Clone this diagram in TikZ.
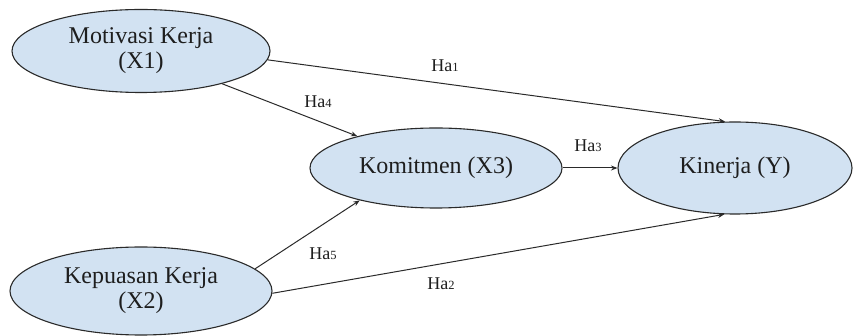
\documentclass[tikz,border=0pt]{standalone}
\usepackage{fontspec}
\setmainfont{Liberation Serif}
\usetikzlibrary{shapes.geometric,arrows.meta}
\definecolor{bubble}{HTML}{D2E2F2}
\definecolor{rim}{HTML}{2A2A2A}
\definecolor{ink}{HTML}{1E1E1E}
\tikzset{
  x=1pt, y=-1pt,
  construct/.style={ellipse, draw=rim, line width=1.1pt, fill=bubble, text=ink,
    inner sep=0pt, align=center, font=\fontsize{24}{25}\selectfont},
  path/.style={draw=rim, line width=1pt, -{Stealth[length=6.5pt,width=5pt]}},
  hyp/.style={font=\fontsize{18}{20}\selectfont, text=ink, inner sep=0pt}
}
\newcommand{\hlab}[1]{Ha{\fontsize{12.5}{13}\selectfont #1}}
\begin{document}
\begin{tikzpicture}
\useasboundingbox (0,0) rectangle (862,336);
\node[construct, minimum width=258pt, minimum height=83pt] (x1) at (141,51) {Motivasi Kerja\\(X1)};
\node[construct, minimum width=252pt, minimum height=80pt] (x3) at (436,168) {Komitmen (X3)};
\node[construct, minimum width=234pt, minimum height=92pt] (y) at (735,168) {Kinerja (Y)};
\node[construct, minimum width=262pt, minimum height=88pt] (x2) at (141,291) {Kepuasan Kerja\\(X2)};

\draw[path] (x1.-4) -- (y.102);
\draw[path] (x1.-22) -- (x3.158);
\draw[path] (x3.east) -- (y.west);
\draw[path] (x2.11) -- (x3.-157);
\draw[path] (x2.-1) -- (y.-103);

\node[hyp] (h1) at (445,66) {\hlab{1}};
\node[hyp] (h4) at (318,102) {\hlab{4}};
\node[hyp] (h3) at (588,146) {\hlab{3}};
\node[hyp] (h5) at (323,254) {\hlab{5}};
\node[hyp] (h2) at (441,284) {\hlab{2}};
\end{tikzpicture}
\end{document}
